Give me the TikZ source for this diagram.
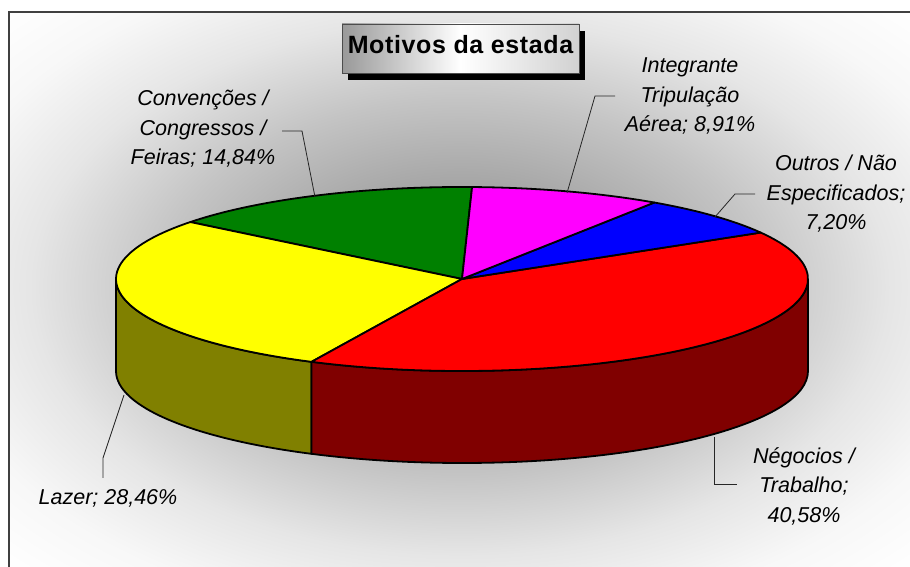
\documentclass[tikz,border=0pt]{standalone}
\usepackage{fontspec}
\setmainfont{Liberation Sans}
\newfontfamily\titlefont[LetterSpace=2.5]{Liberation Sans}
\usetikzlibrary{calc,shadows}
\pgfdeclareradialshading{bgshade}{\pgfpoint{0bp}{0bp}}{color(0bp)=(black!48); color(6bp)=(black!36); color(11.75bp)=(black!23); color(16.75bp)=(black!10); color(21bp)=(black!3); color(25bp)=(white); color(50bp)=(white)}
\definecolor{pgreen}{RGB}{0,128,0}
\definecolor{pmag}{RGB}{255,0,255}
\definecolor{pblue}{RGB}{0,0,255}
\definecolor{pred}{RGB}{255,0,0}
\definecolor{pyellow}{RGB}{255,255,0}
\definecolor{polive}{RGB}{128,128,0}
\definecolor{pdarkred}{RGB}{128,0,0}
\begin{document}
\begin{tikzpicture}[x=1pt,y=1pt,
  slice/.style={draw=black, line width=1.8pt, line join=round},
  leader/.style={draw=black!85, line width=0.8pt},
  lbl/.style={font=\fontsize{21.5}{29.5}\selectfont\itshape, align=center, inner sep=0pt},
  er/.style={x radius=346pt, y radius=92pt}]
\useasboundingbox (0,0) rectangle (910,567);
\fill[white] (0,0) rectangle (910,567);
\begin{scope}
\clip (9,0) rectangle (910,555);
\shade[shading=bgshade] (460,280) ellipse[x radius=640pt, y radius=400pt];
\end{scope}
\draw[black!75, line width=1.5pt] (9,-5) -- (9,555) -- (915,555);
% title
\node[draw=black!70, line width=0.8pt, minimum width=237pt, minimum height=49pt, inner sep=0pt,
  left color=black!40, right color=black!18, middle color=white,
  general shadow={fill=black, shadow xshift=6pt, shadow yshift=-7pt},
  font=\titlefont\fontsize{25}{28}\selectfont\bfseries, text height=14pt, text depth=4.4pt]
  (title) at (460.5,518.5) {Motivos da estada};
% pie
\coordinate (C) at (462,288);
\filldraw[slice, fill=polive] ($(C)+(180:346pt and 92pt)$) arc[start angle=180, end angle=244.21, er] -- ++(0,-92) arc[start angle=244.21, end angle=180, er] -- cycle;
\filldraw[slice, fill=pdarkred] ($(C)+(244.21:346pt and 92pt)$) arc[start angle=244.21, end angle=360, er] -- ++(0,-92) arc[start angle=360, end angle=244.21, er] -- cycle;
\filldraw[slice, fill=pgreen] (C) -- ($(C)+(88.33:346pt and 92pt)$) arc[start angle=88.33, end angle=141.75, er] -- cycle;
\filldraw[slice, fill=pyellow] (C) -- ($(C)+(141.75:346pt and 92pt)$) arc[start angle=141.75, end angle=244.21, er] -- cycle;
\filldraw[slice, fill=pred] (C) -- ($(C)+(244.21:346pt and 92pt)$) arc[start angle=244.21, end angle=390.30, er] -- cycle;
\filldraw[slice, fill=pblue] (C) -- ($(C)+(30.30:346pt and 92pt)$) arc[start angle=30.30, end angle=56.22, er] -- cycle;
\filldraw[slice, fill=pmag] (C) -- ($(C)+(56.22:346pt and 92pt)$) arc[start angle=56.22, end angle=88.33, er] -- cycle;
% labels
\node[lbl] (conv) at (203,438) {Convenções /\\Congressos /\\Feiras; 14,84\%};
\node[lbl] (integ) at (690,471) {Integrante\\Tripulação\\Aérea; 8,91\%};
\node[lbl] (outros) at (836,373) {Outros / Não\\Especificados;\\7,20\%};
\node[lbl] (neg) at (804,81) {Négocios /\\Trabalho;\\40,58\%};
\node[lbl, anchor=base] (lazer) at (108,62) {Lazer; 28,46\%};
% leader lines
\coordinate (convP) at (315,370); \coordinate (convK) at (302,436); \coordinate (convE) at (282,436);
\coordinate (integP) at (567,374); \coordinate (integK) at (595,471); \coordinate (integE) at (615,471);
\coordinate (outP) at (715,350); \coordinate (outK) at (735,373); \coordinate (outE) at (755,373);
\coordinate (negP) at (714,130); \coordinate (negK) at (714,83); \coordinate (negE) at (737,83);
\coordinate (lazP) at (124,172); \coordinate (lazK) at (103,109); \coordinate (lazE) at (103,89);
\draw[leader] (convP) -- (convK) -- (convE);
\draw[leader] (integP) -- (integK) -- (integE);
\draw[leader] (outP) -- (outK) -- (outE);
\draw[leader] (negP) -- (negK) -- (negE);
\draw[leader] (lazP) -- (lazK) -- (lazE);
\end{tikzpicture}
\end{document}
